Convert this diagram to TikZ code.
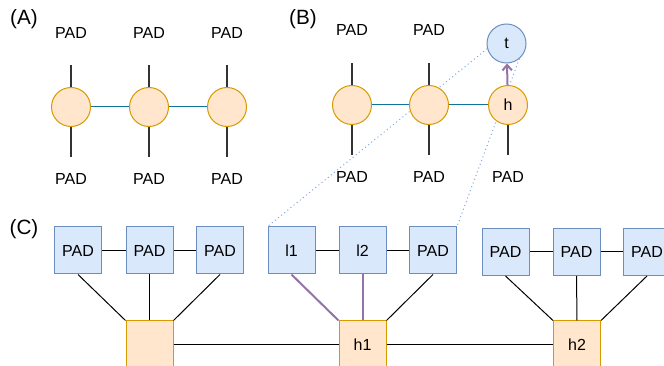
\documentclass[tikz,border=0pt]{standalone}
\usepackage{fontspec}
\setmainfont{Liberation Sans}
\usepackage{xcolor}
\usetikzlibrary{positioning,arrows.meta,calc,backgrounds}

\definecolor{tokfill}{HTML}{FFE6CC}
\definecolor{tokline}{HTML}{D79B00}
\definecolor{padfill}{HTML}{DAE8FC}
\definecolor{padline}{HTML}{6C8EBF}
\definecolor{linkteal}{HTML}{10739E}
\definecolor{attn}{HTML}{9673A6}
\definecolor{zoomline}{HTML}{7EA6E0}

\begin{document}
\begin{tikzpicture}[
    x=0.75pt, y=-0.75pt,
    tok/.style={circle, draw=tokline, fill=tokfill, line width=0.75pt, minimum size=29.25pt, inner sep=0pt, font=\fontsize{12}{14}\selectfont},
    qtok/.style={tok, draw=padline, fill=padfill},
    padbox/.style={rectangle, draw=padline, fill=padfill, line width=0.75pt, minimum size=35.25pt, inner sep=0pt, font=\fontsize{12}{14}\selectfont},
    hbox/.style={padbox, draw=tokline, fill=tokfill},
    lbl/.style={font=\fontsize{12}{14}\selectfont, inner sep=0pt},
    tag/.style={font=\fontsize{15.5}{17}\selectfont, inner sep=0pt},
    stub/.style={draw=black!80, line width=0.9pt},
    chain/.style={draw=linkteal, line width=0.75pt},
    wire/.style={draw=black, line width=0.75pt},
    attnw/.style={draw=attn, line width=1.5pt},
    zoom/.style={draw=zoomline, line width=0.75pt, dash pattern=on 0.75pt off 2.25pt}
]
\useasboundingbox (0,0) rectangle (664,366);

% (A) token chain
\node[tag] (tagA) at (24,19) {(A)};
\node[tok] (a1) at (71,107) {};
\node[tok, right=28.5pt of a1] (a2) {};
\node[tok, right=28.5pt of a2] (a3) {};
\draw[chain] (a1) -- (a2);
\draw[chain] (a2) -- (a3);
\foreach \n in {a1,a2,a3} {
    \coordinate (\n top) at ($(\n.north)+(0,-22)$);
    \coordinate (\n bot) at ($(\n.south)+(0,30)$);
    \draw[stub] (\n.north) -- (\n top);
    \draw[stub] (\n.south) -- (\n bot);
    \node[lbl] (\n padtop) at ($(\n.center)+(0,-74)$) {PAD};
    \node[lbl] (\n padbot) at ($(\n.center)+(0,72)$) {PAD};
}

% (B) token chain with target
\node[tag] (tagB) at (303,19) {(B)};
\node[tok] (b1) at (352,105) {};
\node[tok, right=27.75pt of b1] (b2) {};
\node[tok, right=29.25pt of b2] (h) {h};
\node[qtok] (t) at (506.5,43.5) {t};
\draw[chain] (b1) -- (b2);
\draw[chain] (b2) -- (h);
\draw[attnw, -{Straight Barb[length=4pt,width=7pt]}] (h) -- (t);
\foreach \n in {b1,b2} {
    \coordinate (\n top) at ($(\n.north)+(0,-22)$);
    \draw[stub] (\n.north) -- (\n top);
    \node[lbl] (\n padtop) at ($(\n.center)+(0,-75)$) {PAD};
}
\foreach \n in {b1,b2,h} {
    \coordinate (\n bot) at ($(\n.south)+(0,30)$);
    \draw[stub] (\n.south) -- (\n bot);
    \node[lbl] (\n padbot) at ($(\n.center)+(0,72)$) {PAD};
}

% (C) block layout
\node[tag] (tagC) at (24,229) {(C)};
\node[padbox] (p1) at (78,250.5) {PAD};
\node[padbox] (p2) at (149.5,250.5) {PAD};
\node[padbox] (p3) at (220,250.5) {PAD};
\node[padbox] (l1) at (291.5,250.5) {l1};
\node[padbox] (l2) at (362.5,250.5) {l2};
\node[padbox] (p4) at (433,250.5) {PAD};
\node[padbox] (p5) at (505.5,252) {PAD};
\node[padbox] (p6) at (576.5,252) {PAD};
\node[padbox] (p7) at (647,252) {PAD};

\node[hbox] (h0) at (149.5,344.5) {};
\node[hbox] (h1) at (362.5,344.5) {h1};
\node[hbox] (h2) at (577,344.5) {h2};

\draw[wire] (p1) -- (p2);
\draw[wire] (p2) -- (p3);
\draw[wire] (l1) -- (l2);
\draw[wire] (l2) -- (p4);
\draw[wire] (p5) -- (p6);
\draw[wire] (p6) -- (p7);
\draw[wire] (h0) -- (h1);
\draw[wire] (h1) -- (h2);

\draw[wire] (p1.south) -- (h0.north west);
\draw[wire] (p2.south) -- (h0.north);
\draw[wire] (p3.south) -- (h0.north east);
\draw[attnw] (l1.south) -- (h1.north west);
\draw[attnw] (l2.south) -- (h1.north);
\draw[wire] (p4.south) -- (h1.north east);
\draw[wire] (p5.south) -- (h2.north west);
\draw[wire] (p6.south) -- (h2.north);
\draw[wire] (p7.south) -- (h2.north east);

% zoom lines
\begin{scope}[on background layer]
\draw[zoom] (t.195) -- (l1.north west);
\draw[zoom] (t.-50) -- (p4.north east);
\end{scope}

\end{tikzpicture}
\end{document}
